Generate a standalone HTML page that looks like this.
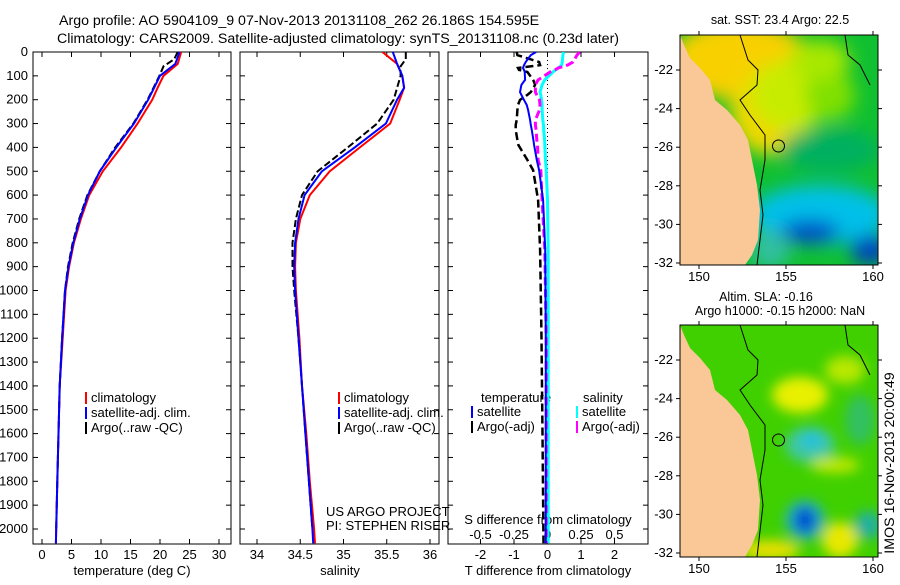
<!DOCTYPE html>
<html><head><meta charset="utf-8"><style>
body{margin:0;background:#fff;width:900px;height:580px;overflow:hidden}
svg text{font-family:"Liberation Sans",sans-serif;font-size:13px;fill:#000}
svg text.ttl{font-size:14.2px}
svg text.mt{font-size:12.5px}
</style></head><body>
<svg id="fig" width="900" height="580" xmlns="http://www.w3.org/2000/svg">
<defs>
<filter id="bl" x="-50%" y="-50%" width="200%" height="200%"><feGaussianBlur stdDeviation="9"/></filter>
<filter id="bl2" x="-50%" y="-50%" width="200%" height="200%"><feGaussianBlur stdDeviation="6"/></filter>
<clipPath id="c1"><rect x="680" y="35" width="198" height="230"/></clipPath>
<clipPath id="c2"><rect x="680" y="325" width="198" height="232"/></clipPath>
<clipPath id="cp1"><rect x="33" y="52" width="198" height="492"/></clipPath>
<clipPath id="cp2"><rect x="240" y="52" width="199" height="492"/></clipPath>
<clipPath id="cp3"><rect x="448" y="52" width="200" height="492"/></clipPath>
</defs>
<text class="ttl" x="59" y="25">Argo profile: AO 5904109_9 07-Nov-2013 20131108_262 26.186S 154.595E</text>
<text class="ttl" x="57" y="43">Climatology: CARS2009. Satellite-adjusted climatology: synTS_20131108.nc (0.23d later)</text>
<g id="axes"></g>
<g id="series"></g>
<g>
 <text class="mt" x="780" y="24" text-anchor="middle">sat. SST: 23.4  Argo: 22.5</text>
 <g clip-path="url(#c1)">
  <rect x="680" y="35" width="198" height="230" fill="#10c030"/>
  <g filter="url(#bl)">
   <ellipse cx="740" cy="60" rx="70" ry="40" fill="#f8d000"/>
   <ellipse cx="770" cy="110" rx="40" ry="45" fill="#f0d800"/>
   <ellipse cx="790" cy="95" rx="40" ry="35" fill="#c8ec00"/>
   <ellipse cx="830" cy="95" rx="25" ry="25" fill="#80e000"/>
   <ellipse cx="820" cy="60" rx="30" ry="20" fill="#a8e800"/>
   <ellipse cx="830" cy="150" rx="50" ry="22" fill="#00b060"/>
   <ellipse cx="820" cy="215" rx="70" ry="30" fill="#00c0e8"/>
   <ellipse cx="810" cy="232" rx="30" ry="12" fill="#0048c8"/>
   <ellipse cx="870" cy="250" rx="20" ry="15" fill="#0040c0"/>
   <ellipse cx="770" cy="250" rx="20" ry="20" fill="#30c0a0"/>
  </g>
  <polygon fill="#f9c896" points="680,35 684,45 690,58 700,68 710,80 715,100 727,110 740,125 748,140 752,160 757,185 760,210 758,240 752,255 745,265 680,265"/>
  <path d="M740,35 L748,60 L758,70 L757,85 L740,100 L750,115 L765,135 L765,160 L760,190 L763,215 L757,265" fill="none" stroke="#000" stroke-width="1"/>
  <path d="M845,35 L848,55 L860,65 L865,75 L870,85" fill="none" stroke="#000" stroke-width="1"/>
  <circle cx="778.5" cy="146" r="6" fill="none" stroke="#000"/>
 </g>
 <rect x="680" y="35" width="198" height="230" fill="none" stroke="#000"/>
</g>
<g>
 <text class="mt" x="766" y="301" text-anchor="middle">Altim. SLA: -0.16</text>
 <text class="mt" x="780" y="315" text-anchor="middle">Argo h1000: -0.15 h2000: NaN</text>
 <g clip-path="url(#c2)">
  <rect x="680" y="325" width="198" height="232" fill="#40d000"/>
  <g filter="url(#bl2)">
   <ellipse cx="800" cy="395" rx="28" ry="18" fill="#e8f000"/>
   <ellipse cx="845" cy="370" rx="20" ry="14" fill="#b8e800"/>
   <ellipse cx="810" cy="445" rx="25" ry="18" fill="#40c8a0"/>
   <ellipse cx="812" cy="440" rx="12" ry="8" fill="#20c0e0"/>
   <ellipse cx="835" cy="465" rx="25" ry="8" fill="#c0e800"/>
   <ellipse cx="805" cy="520" rx="20" ry="20" fill="#20b0c0"/>
   <ellipse cx="805" cy="520" rx="11" ry="13" fill="#0050d0"/>
   <ellipse cx="770" cy="550" rx="30" ry="10" fill="#e8e000"/>
   <ellipse cx="840" cy="540" rx="18" ry="18" fill="#e8e800"/>
   <ellipse cx="868" cy="525" rx="14" ry="14" fill="#20b0a0"/>
   <ellipse cx="860" cy="420" rx="15" ry="25" fill="#30c060"/>
  </g>
  <polygon fill="#f9c896" points="680,325 684,335 690,348 700,358 710,370 715,390 727,400 740,415 748,430 752,450 757,475 760,500 758,530 752,545 745,557 680,557"/>
  <path d="M740,325 L748,350 L758,360 L757,375 L740,390 L750,405 L765,425 L765,450 L760,480 L763,505 L757,557" fill="none" stroke="#000" stroke-width="1"/>
  <path d="M845,325 L848,345 L860,355 L865,365 L870,375" fill="none" stroke="#000" stroke-width="1"/>
  <circle cx="778.5" cy="440" r="6" fill="none" stroke="#000"/>
 </g>
 <rect x="680" y="325" width="198" height="232" fill="none" stroke="#000"/>
</g>
<text class="ttl" transform="translate(894,463) rotate(-90)" text-anchor="middle">IMOS 16-Nov-2013 20:00:49</text>
</svg>
<script>
const NS="http://www.w3.org/2000/svg";
const depthClim=[0,50,100,150,200,300,400,500,600,700,800,900,1000,1200,1400,1600,1800,2000,2060];
const tempClim=[23.6,23.0,20.6,19.6,18.7,16.2,13.4,10.3,8.0,6.6,5.4,4.6,4.0,3.5,3.0,2.8,2.6,2.4,2.35];
const tempSat=[23.3,22.6,20.0,19.0,18.0,15.6,12.6,9.8,7.8,6.4,5.3,4.5,3.9,3.4,3.0,2.8,2.6,2.4,2.35];
const depthArgo=[0,30,60,100,150,200,300,400,500,600,700,800,900,1000,1200,1400,1600,1800,2000];
const tempArgo=[23.0,22.4,20.6,19.9,18.9,17.9,15.5,12.4,9.8,7.7,6.3,5.2,4.4,3.9,3.4,3.0,2.8,2.6,2.4];
const salClim=[35.45,35.62,35.68,35.70,35.65,35.54,35.19,34.84,34.61,34.50,34.45,34.44,34.45,34.49,34.52,34.57,34.61,34.66,34.67];
const salSat=[35.57,35.62,35.68,35.70,35.62,35.49,35.13,34.75,34.55,34.48,34.44,34.43,34.44,34.48,34.52,34.56,34.60,34.64,34.65];
const salArgo=[35.72,35.72,35.66,35.66,35.62,35.58,35.39,35.05,34.70,34.52,34.45,34.41,34.41,34.43,34.48,34.52,34.56,34.60,34.64];
const depthDiff=[0,13,42,55,67,75,84,117,126,138,168,180,201,222,243,285,306,327,369,390,453,495,620,830,1200,1600,2060];
const tdiffSat=[-0.34,-0.5,-0.65,-0.7,-0.73,-0.7,-0.68,-0.67,-0.72,-0.78,-0.82,-0.78,-0.7,-0.62,-0.58,-0.52,-0.5,-0.47,-0.42,-0.4,-0.32,-0.25,-0.13,-0.07,-0.05,-0.05,-0.05];
const tdiffArgo=[-0.92,-0.9,-0.25,-0.22,-0.88,-0.85,-0.6,-0.43,-0.4,-0.37,-0.5,-0.6,-0.82,-0.88,-0.9,-0.92,-0.95,-0.95,-0.9,-0.87,-0.6,-0.43,-0.28,-0.22,-0.18,-0.15,-0.12];
const sdiffSat=[0.12,0.115,0.11,0.106,0.08,0.06,0.04,-0.02,-0.03,-0.04,-0.056,-0.05,-0.045,-0.04,-0.04,-0.035,-0.03,-0.028,-0.022,-0.02,-0.015,-0.01,0,0.005,0.005,0.005,0.005];
const sdiffArgo=[0.24,0.22,0.19,0.15,0.08,0.056,0.02,-0.07,-0.08,-0.09,-0.09,-0.08,-0.06,-0.056,-0.06,-0.09,-0.09,-0.085,-0.08,-0.075,-0.07,-0.05,-0.04,-0.02,-0.01,-0.01,-0.01];
const depthTicks=[0,100,200,300,400,500,600,700,800,900,1000,1100,1200,1300,1400,1500,1600,1700,1800,1900,2000];
const tempTicks=[0,5,10,15,20,25,30];
const salTicks=[34,34.5,35,35.5,36];
const tdTicks=[-2,-1,0,1,2];
const sdTicks=[-0.5,-0.25,0,0.25,0.5];

const yD=d=>52+d*0.2385;
const xT=v=>42+v*5.9;
const xS=v=>257+(v-34)*86.5;
const xTD=v=>547.5+v*33.5;
const xSD=v=>547.5+v*134;

const axes=document.getElementById('axes'), series=document.getElementById('series');
function mk(tag,attrs,parent){const e=document.createElementNS(NS,tag);for(const k in attrs)e.setAttribute(k,attrs[k]);parent.appendChild(e);return e;}
function txt(x,y,s,anchor,parent){const t=mk('text',{x:x,y:y,'text-anchor':anchor},parent);t.textContent=s;return t;}

const panels=[[33,231,'temperature-panel'],[240,439,'salinity-panel'],[448,648,'difference-panel']];
panels.forEach(p=>{
  const r=mk('rect',{x:p[0],y:52,width:p[1]-p[0],height:492,fill:'none',stroke:'#000'},axes);
  
  
  depthTicks.forEach(d=>{mk('line',{x1:p[0],x2:p[0]+5,y1:yD(d),y2:yD(d),stroke:'#000'},axes);mk('line',{x1:p[1]-5,x2:p[1],y1:yD(d),y2:yD(d),stroke:'#000'},axes);});
});
depthTicks.forEach(d=>{const t=txt(28,yD(d)+4,String(d),'end',axes);
  
  });
function xticks(ticks,fx,labelFn,y){ticks.forEach(v=>{const x=fx(v);mk('line',{x1:x,x2:x,y1:52,y2:57,stroke:'#000'},axes);mk('line',{x1:x,x2:x,y1:539,y2:544,stroke:'#000'},axes);
  const t=txt(x,y,labelFn(v),'middle',axes);
  
  });}
xticks(tempTicks,xT,String,559);
xticks(salTicks,xS,String,559);
xticks(tdTicks,xTD,String,559);
sdTicks.forEach(v=>{const t=txt(xSD(v),539,String(v),'middle',axes);
  
  });
mk('line',{x1:547.5,x2:547.5,y1:52,y2:544,stroke:'#000','stroke-dasharray':'1,3'},axes);
[[132,'temperature (deg C)','x-axis-title-temperature'],[340,'salinity','x-axis-title-salinity'],[548,'T difference from climatology','x-axis-title-tdiff'],[548,'S difference from climatology','s-diff-axis-title']].forEach((a,i)=>{
  const t=txt(a[0],i==3?524:575,a[1],'middle',axes);
  
  });
[['US ARGO PROJECT',516],['PI: STEPHEN RISER',530]].forEach(a=>{const t=txt(326,a[1],a[0],'start',axes);
  
  });

function line(depths,vals,fx,color,w,dash,clip,name){
  const pts=depths.map((d,i)=>fx(vals[i]).toFixed(1)+','+yD(d).toFixed(1)).join(' ');
  const a={points:pts,fill:'none',stroke:color,'stroke-width':w,'clip-path':'url(#'+clip+')'};
  if(dash)a['stroke-dasharray']=dash;
  const e=mk('polyline',a,series);
  
  
}
line(depthClim,tempClim,xT,'#f00',2,null,'cp1','temp-climatology-line');
line(depthArgo,tempArgo,xT,'#000',2,'7,3','cp1','temp-argo-line');
line(depthClim,tempSat,xT,'#00f',2,null,'cp1','temp-satellite-line');
line(depthClim,salClim,xS,'#f00',2,null,'cp2','sal-climatology-line');
line(depthArgo,salArgo,xS,'#000',2,'7,3','cp2','sal-argo-line');
line(depthClim,salSat,xS,'#00f',2,null,'cp2','sal-satellite-line');
line(depthDiff,sdiffSat,xSD,'#0ff',3,null,'cp3','sdiff-satellite-line');
line(depthDiff,tdiffArgo,xTD,'#000',2.5,'8,4','cp3','tdiff-argo-line');
line(depthDiff,sdiffArgo,xSD,'#f0f',3,'8,4','cp3','sdiff-argo-line');
line(depthDiff,tdiffSat,xTD,'#00f',2,null,'cp3','tdiff-satellite-line');

function legend(x,items,name){items.forEach((it,i)=>{const y=402+i*15;
  mk('line',{x1:x,x2:x,y1:y-10,y2:y+2,stroke:it[0],'stroke-width':2},axes);
  const t=txt(x+5,y,it[1],'start',axes);
  
  });}
legend(86,[['#f00','climatology'],['#00f','satellite-adj. clim.'],['#000','Argo(..raw -QC)']],'temp-legend-entry');
legend(339,[['#f00','climatology'],['#00f','satellite-adj. clim.'],['#000','Argo(..raw -QC)']],'sal-legend-entry');
[['temperature',481,402],['salinity',583,402]].forEach(a=>{const t=txt(a[1],a[2],a[0],'start',axes);
  
  });
[[472,'#00f','satellite',0],[472,'#000','Argo(-adj)',1],[577,'#0ff','satellite',0],[577,'#f0f','Argo(-adj)',1]].forEach(a=>{
  const y=416+a[3]*15;
  mk('line',{x1:a[0],x2:a[0],y1:y-10,y2:y+2,stroke:a[1],'stroke-width':2},axes);
  const t=txt(a[0]+5,y,a[2],'start',axes);
  
  });

const latTicks=[-22,-24,-26,-28,-30,-32];
const lonTicks=[150,155,160];
const xLon=v=>699+(v-150)*17.4;
[[70,19.3,35,265,281],[360,19.3,325,557,573]].forEach(m=>{
  latTicks.forEach(l=>{const y=m[0]+(-22-l)*m[1];
    mk('line',{x1:680,x2:676,y1:y,y2:y,stroke:'#000'},axes);mk('line',{x1:878,x2:882,y1:y,y2:y,stroke:'#000'},axes);
    const t=txt(673,y+4,String(l),'end',axes);
    
    });
  lonTicks.forEach(l=>{const x=xLon(l);
    mk('line',{x1:x,x2:x,y1:m[2],y2:m[2]-4,stroke:'#000'},axes);mk('line',{x1:x,x2:x,y1:m[3],y2:m[3]+4,stroke:'#000'},axes);
    const t=txt(x,m[4],String(l),'middle',axes);
    
    });
});
</script>
</body></html>
